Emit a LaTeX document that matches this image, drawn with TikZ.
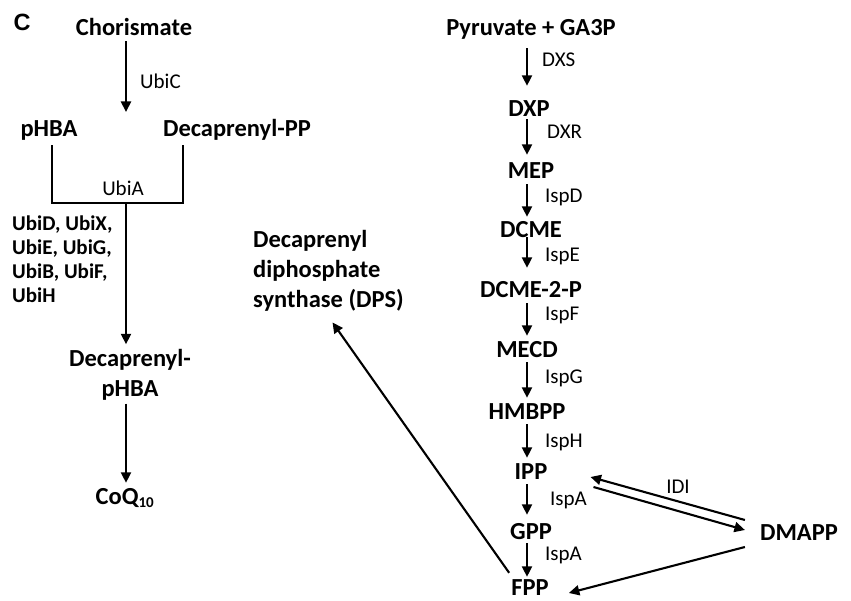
\documentclass[tikz,border=0pt]{standalone}
\usepackage{fontspec}
\setmainfont{Carlito}
\newfontfamily\panelfont{Liberation Sans}
\usetikzlibrary{arrows.meta}
\tikzset{
  metab/.style={font=\bfseries\fontsize{24.5}{30}\selectfont, inner sep=0pt,
    text height=16pt, text depth=2pt},
  metabml/.style={font=\bfseries\fontsize{24.5}{30}\selectfont, inner sep=0pt,
    align=center},
  enz/.style={font=\fontsize{21}{24}\selectfont, inner sep=0pt, anchor=west},
  rxn/.style={line width=2.1pt, -{Triangle[length=10.5pt,width=10pt]},
    shorten <=3pt, shorten >=5pt},
  bar/.style={line width=2.1pt}
}

\begin{document}
\begin{tikzpicture}[x=1pt,y=-1pt]
  \useasboundingbox (0,0) rectangle (851,601);
  \node[font=\panelfont\bfseries\fontsize{23.5}{26}\selectfont,inner sep=0pt]
    (panel) at (22,22) {C};

  % Ubiquinone branch
  \coordinate (lcol) at (126,0);
  \node[metab] (chor) at (134,29) {Chorismate};
  \coordinate (ubictip) at (126,112);
  \draw[rxn,shorten >=0pt] (chor.south -| ubictip) -- (ubictip);
  \node[enz] (ubic) at (140,81) {UbiC};
  \node[metab] (phba) at (49,130) {pHBA};
  \node[metab] (dpp) at (237,130) {Decaprenyl-PP};
  \coordinate (jl) at (52,203);
  \coordinate (jr) at (183,203);
  \coordinate (join) at (126,203);
  \draw[bar,shorten <=6pt,shorten >=6pt] (phba.south -| jl) -- (jl) -- (jr)
    -- (dpp.south -| jr);
  \node[enz,anchor=center] (ubia) at (123,188) {UbiA};
  \node[enz,font=\bfseries\fontsize{21}{24}\selectfont,align=left,
    anchor=north west] (ubis) at (12,216)
    {UbiD, UbiX,\\UbiE, UbiG,\\UbiB, UbiF,\\UbiH};
  \node[metabml] (dphba) at (130,375) {Decaprenyl-\\pHBA};
  \draw[rxn,shorten <=0pt] (join) -- (dphba.north -| lcol);
  \node[metab] (coq) at (125,497)
    {CoQ\textsubscript{\fontsize{15}{15}\selectfont 10}};
  \draw[rxn] (dphba.south -| lcol) -- (coq.north -| lcol);

  % MEP pathway
  \coordinate (mcol) at (527,0);
  \node[metab] (pyr) at (531,29) {Pyruvate + GA3P};
  \node[metab] (dxp) at (529,110) {DXP};
  \node[metab] (mep) at (531,172) {MEP};
  \node[metab] (dcme) at (531,231) {DCME};
  \node[metab] (dcmep) at (531,291) {DCME-2-P};
  \node[metab] (mecd) at (527,350) {MECD};
  \node[metab] (hmbpp) at (527,412) {HMBPP};
  \node[metab] (ipp) at (531,472) {IPP};
  \node[metab] (gpp) at (531,532) {GPP};
  \node[metab] (fpp) at (530,588) {FPP};
  \node[metab] (dmapp) at (799,533) {DMAPP};

  \draw[rxn,shorten <=10pt,shorten >=15pt] (pyr.south -| mcol) -- (dxp.north -| mcol);
  \draw[rxn,shorten <=0pt,shorten >=8pt] (dxp.south -| mcol) -- (mep.north -| mcol);
  \draw[rxn] (mep.south -| mcol) -- (dcme.north -| mcol);
  \draw[rxn,shorten <=-3pt,shorten >=14pt] (dcme.south -| mcol) -- (dcmep.north -| mcol);
  \draw[rxn] (dcmep.south -| mcol) -- (mecd.north -| mcol);
  \draw[rxn] (mecd.south -| mcol) -- (hmbpp.north -| mcol);
  \draw[rxn] (hmbpp.south -| mcol) -- (ipp.north -| mcol);
  \draw[rxn,shorten >=8pt] (ipp.south -| mcol) -- (gpp.north -| mcol);
  \draw[rxn,shorten <=2pt,shorten >=2pt] (gpp.south -| mcol) -- (fpp.north -| mcol);

  \node[enz] (dxs) at (542,60) {DXS};
  \node[enz] (dxr) at (547,132) {DXR};
  \node[enz] (ispd) at (545,197) {IspD};
  \node[enz] (ispe) at (545,256) {IspE};
  \node[enz] (ispf) at (545,315) {IspF};
  \node[enz] (ispg) at (545,378) {IspG};
  \node[enz] (isph) at (545,442) {IspH};
  \node[enz] (ispa) at (550,500) {IspA};
  \node[enz] (ispab) at (545,555) {IspA};
  \node[enz,anchor=center] (idi) at (678,487) {IDI};

  % Isomerisation and chain elongation
  \draw[rxn,shorten <=0pt,shorten >=0pt] ([shift={(-15,-13)}]dmapp.west)
    -- ([shift={(43,5)}]ipp.east);
  \draw[rxn,shorten <=0pt,shorten >=0pt] ([shift={(46,15)}]ipp.east)
    -- ([shift={(-15,-3)}]dmapp.west);
  \draw[rxn,shorten <=0pt,shorten >=0pt] ([shift={(-15,14)}]dmapp.west)
    -- ([shift={(20,5)}]fpp.east);

  \node[metabml,align=left,anchor=north west] (dps) at (253,230)
    {Decaprenyl\\diphosphate\\synthase (DPS)};
  \draw[rxn,shorten <=0pt,shorten >=0pt] ([shift={(-2,-6)}]fpp.north west)
    -- ([shift={(4,11)}]dps.south);
\end{tikzpicture}
\end{document}
